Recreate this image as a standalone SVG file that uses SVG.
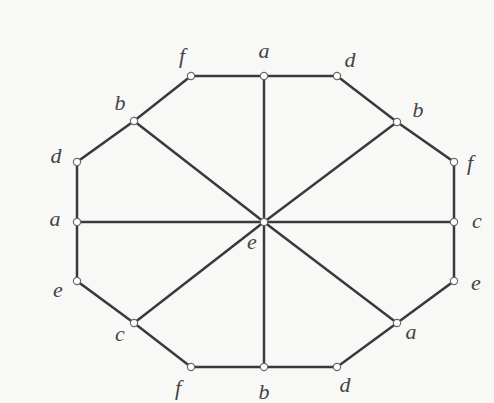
<svg xmlns="http://www.w3.org/2000/svg" width="494" height="403" viewBox="0 0 494 403">
<style>
.e{stroke:#3a3a3a;stroke-width:2.5;fill:none;stroke-linecap:round}
.v{fill:#fff;stroke:#6a6a6a;stroke-width:1.2}
.l{font-family:"Liberation Serif",serif;font-style:italic;font-size:22px;fill:#444;text-anchor:middle}
</style>
<rect width="494" height="403" fill="#f8f8f7"/>
<g id="connectors" class="e">
<path d="M191,76 L264,76 L337,76 L397,122 L454,162 L454,222 L454,281 L397,323 L337,367 L264,367 L191,367 L134,323 L77,281 L77,222 L77,162 L134,121 Z"/>
<path d="M264,222 L264,76 M264,222 L264,367 M264,222 L77,222 M264,222 L454,222 M264,222 L134,121 M264,222 L397,122 M264,222 L134,323 M264,222 L397,323"/>
</g>
<g id="n_f_top"><circle class="v" cx="191" cy="76" r="3.6"/><text class="l" x="182" y="63">f</text></g>
<g id="n_a_top"><circle class="v" cx="264" cy="76" r="3.6"/><text class="l" x="264" y="58">a</text></g>
<g id="n_d_top"><circle class="v" cx="337" cy="76" r="3.6"/><text class="l" x="350" y="67">d</text></g>
<g id="n_b_ul"><circle class="v" cx="134" cy="121" r="3.6"/><text class="l" x="120" y="110">b</text></g>
<g id="n_b_ur"><circle class="v" cx="397" cy="122" r="3.6"/><text class="l" x="418" y="117">b</text></g>
<g id="n_d_l"><circle class="v" cx="77" cy="162" r="3.6"/><text class="l" x="56" y="163">d</text></g>
<g id="n_f_r"><circle class="v" cx="454" cy="162" r="3.6"/><text class="l" x="470" y="170">f</text></g>
<g id="n_a_l"><circle class="v" cx="77" cy="222" r="3.6"/><text class="l" x="55" y="226">a</text></g>
<g id="n_c_r"><circle class="v" cx="454" cy="222" r="3.6"/><text class="l" x="477" y="228">c</text></g>
<g id="n_e_l"><circle class="v" cx="77" cy="281" r="3.6"/><text class="l" x="58" y="297">e</text></g>
<g id="n_e_r"><circle class="v" cx="454" cy="281" r="3.6"/><text class="l" x="476" y="290">e</text></g>
<g id="n_c_ll"><circle class="v" cx="134" cy="323" r="3.6"/><text class="l" x="120" y="341">c</text></g>
<g id="n_a_lr"><circle class="v" cx="397" cy="323" r="3.6"/><text class="l" x="411" y="339">a</text></g>
<g id="n_f_bot"><circle class="v" cx="191" cy="367" r="3.6"/><text class="l" x="178" y="395">f</text></g>
<g id="n_b_bot"><circle class="v" cx="264" cy="367" r="3.6"/><text class="l" x="264" y="399">b</text></g>
<g id="n_d_bot"><circle class="v" cx="337" cy="367" r="3.6"/><text class="l" x="345" y="392">d</text></g>
<g id="n_e_c"><circle class="v" cx="264" cy="222" r="3.6"/><text class="l" x="252" y="249">e</text></g>
</svg>
